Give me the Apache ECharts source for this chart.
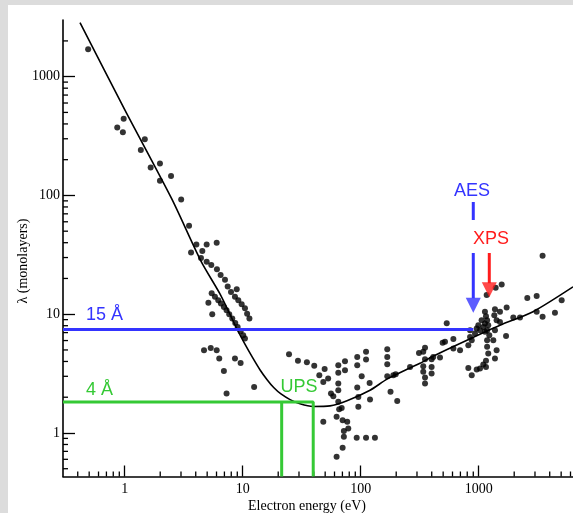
<!DOCTYPE html>
<html>
<head>
<meta charset="utf-8">
<script src="https://cdn.jsdelivr.net/npm/echarts@6/dist/echarts.min.js"></script>
<style>
  html, body { margin: 0; padding: 0; background: #dcdcdc; }
  #chart { width: 573px; height: 513px; }
</style>
</head>
<body>
<div id="chart"></div>
<script>
// axis ranges (electron energy in eV, lambda in monolayers)
const xMin = 0.3, xMax = 6300
const yMin = 0.43, yMax = 3000

const xTickValues = [1, 10, 100, 1000]
const xTickLabels = ['1', '10', '100', '1000']
const yTickValues = [1, 10, 100, 1000]
const yTickLabels = ['1', '10', '100', '1000']

const xMinorTicks = [0.4, 0.5, 0.6, 0.7, 0.8, 0.9, 2, 3, 4, 5, 6, 7, 8, 9,
  20, 30, 40, 50, 60, 70, 80, 90, 200, 300, 400, 500, 600, 700, 800, 900,
  2000, 3000, 4000, 5000, 6000]
const yMinorTicks = [0.5, 0.6, 0.7, 0.8, 0.9, 2, 3, 4, 5, 6, 7, 8, 9,
  20, 30, 40, 50, 60, 70, 80, 90, 200, 300, 400, 500, 600, 700, 800, 900, 2000]

// measured points
const steepPoints = [
  [0.49, 1700], [0.865, 374], [0.98, 443], [0.965, 341], [1.48, 297], [1.37, 241],
  [1.66, 172], [1.99, 186], [2.47, 146], [1.99, 133], [3.01, 92.5], [3.51, 55.5],
  [4.05, 38.6], [4.95, 38.6], [6.02, 39.9], [3.65, 33.1], [4.55, 34.0], [4.43, 29.8]
]
const bandPoints = [
  [4.95, 27.6], [5.42, 25.9], [6.05, 23.9], [6.5, 21.4], [7.08, 19.5], [7.46, 17.1],
  [8.9, 16.2], [7.96, 15.4], [8.6, 14.0], [9.18, 13.1], [9.8, 12.1], [10.45, 11.2],
  [10.9, 10.1], [11.4, 9.2],
  [5.46, 15.0], [5.82, 14.0], [6.21, 13.1], [6.54, 12.3], [6.93, 11.5], [7.3, 10.8],
  [7.69, 10.0], [8.16, 9.2], [8.65, 8.45], [9.06, 7.8], [9.6, 7.2], [10.1, 6.65], [10.45, 6.25],
  [5.12, 12.5], [5.52, 10.0], [4.7, 4.98], [5.36, 5.2], [6.02, 4.98], [6.33, 4.24],
  [6.93, 3.33], [8.6, 4.24], [9.6, 3.89], [7.3, 2.15], [12.5, 2.44]
]
const lowPoints = [
  [24.7, 4.6], [29.4, 4.05], [35, 3.93], [40.4, 3.68], [49.5, 3.46], [44.6, 3.06],
  [48.2, 2.69], [53, 2.87], [56, 2.15], [58.6, 2.04],
  [64.6, 3.72], [64.6, 3.21], [64.6, 2.61], [64.6, 2.29], [64.6, 1.83], [73.6, 4.02],
  [73.6, 3.37], [65.7, 1.58], [69, 1.62],
  [48.2, 1.24], [62.5, 1.37], [70.3, 1.28], [76.9, 1.24], [78.5, 1.09], [72, 1.04],
  [72, 0.93], [70.3, 0.75], [62.5, 0.63],
  [92.5, 0.91], [111, 0.91], [132, 0.91], [93.5, 4.37], [93.5, 3.72], [111, 4.82],
  [111, 4.16], [102, 3.0], [93.5, 2.42], [95.5, 2.01], [95.5, 1.66],
  [119, 2.64], [120, 1.91], [168, 5.07], [168, 4.37], [168, 3.79], [168, 3.0],
  [189, 3.06], [198, 3.12], [179, 2.22], [204, 1.86], [262, 3.6], [312, 4.72]
]
const midPoints = [
  [351, 5.22], [339, 4.82], [351, 4.18], [339, 3.65], [339, 3.27], [351, 2.93], [351, 2.61],
  [399, 4.18], [412, 4.37], [399, 3.6], [399, 3.16], [470, 4.31], [518, 5.85], [495, 5.74],
  [536, 8.4], [610, 6.17], [610, 5.14], [695, 4.98], [817, 3.53], [873, 3.06], [962, 3.42]
]
const highPoints = [
  [1026, 3.49], [1094, 3.77], [1153, 4.05], [1153, 3.6], [1205, 4.67], [1179, 5.31],
  [1374, 4.24], [1419, 4.98], [1706, 6.56],
  [845, 7.33], [845, 6.44], [873, 6.04], [817, 5.48], [931, 6.87], [962, 7.57], [993, 8.07],
  [1026, 7.33], [1059, 8.9], [1094, 7.82], [1130, 8.36], [1130, 7.1], [1130, 10.5],
  [1153, 9.6], [1179, 8.9], [1205, 8.07], [1179, 7.33], [1230, 6.65], [1179, 6.04],
  [1330, 6.04], [1374, 7.33], [1356, 9.8], [1419, 8.9], [1374, 11.0], [1515, 10.5],
  [1515, 8.6], [1726, 11.4], [1965, 9.4], [2240, 9.4], [3100, 10.5], [3480, 9.5],
  [4430, 10.3], [2582, 13.7], [3100, 14.2], [5050, 13.1], [1169, 14.5], [1393, 16.7],
  [1567, 17.8], [3480, 31]
]

// universal curve
const curve = [
  [0.418, 2850], [1, 528], [2.5, 94], [4.43, 28], [6.5, 14.5], [8.9, 7.58],
  [10.45, 5.59], [12.0, 4.39], [14.0, 3.41], [16.1, 2.81], [18.4, 2.4], [21.1, 2.13],
  [25.2, 1.91], [30.6, 1.76], [39.4, 1.67], [55, 1.69], [76.6, 1.87], [120, 2.29],
  [167, 2.84], [228, 3.31], [318, 3.86], [410, 4.43], [796, 6.04], [1515, 8.07],
  [2884, 10.5], [6300, 17]
]

// overlays
const aesLevel = [[xMin, 7.43], [900, 7.43]]
const aesShaftTop = [[900, 88], [900, 62]]
const aesShaft = [[900, 32.7], [900, 13.6]]
const aesHead = [[900, 11.9]]
const xpsShaft = [[1230, 32.7], [1230, 18.2]]
const xpsHead = [[1230, 16.1]]
const upsLevel = [[xMin, 1.82], [39.6, 1.82], [39.6, yMin]]
const upsLeft = [[21.4, 1.82], [21.4, yMin]]

const blue = '#3434ff'
const red = '#ff1c1c'
const green = '#35c935'

function tickLabel (values, labels) {
  return function (v) {
    for (let i = 0; i < values.length; i++) {
      if (Math.abs(v - values[i]) / values[i] < 1e-6) return labels[i]
    }
    return ''
  }
}

function minorTick (dir) {
  return function (params, api) {
    const p = api.coord([api.value(0), api.value(1)])
    const shape = dir === 'x'
      ? { x1: p[0], y1: p[1], x2: p[0], y2: p[1] - 5 }
      : { x1: p[0], y1: p[1], x2: p[0] + 5, y2: p[1] }
    return { type: 'line', shape: shape, style: { stroke: '#000', lineWidth: 1.3 } }
  }
}

function dots (data) {
  return {
    type: 'scatter', data: data, symbolSize: 6, silent: true,
    itemStyle: { color: '#000' }, z: 3
  }
}

function seg (data, color, width) {
  return {
    type: 'line', data: data, symbol: 'none', silent: true,
    lineStyle: { color: color, width: width }, z: 4
  }
}

function head (data, color) {
  return {
    type: 'scatter', data: data, symbol: 'triangle', symbolSize: [15, 15],
    symbolRotate: 180, silent: true, itemStyle: { color: color }, z: 4
  }
}

const chart = echarts.init(document.getElementById('chart'))
const serif = '"Liberation Serif", "DejaVu Serif", serif'
const sans = '"Liberation Sans", Arial, sans-serif'

chart.setOption({
  animation: false,
  backgroundColor: '#dcdcdc',
  grid: { left: 63, right: 0, top: 20, bottom: 36.5, outerBoundsMode: 'none' },
  xAxis: {
    type: 'log', logBase: 10, min: xMin, max: xMax,
    axisLine: { lineStyle: { color: '#000', width: 1.6 } },
    axisTick: { inside: true, length: 11, lineStyle: { color: '#000', width: 1.3 } },
    axisLabel: {
      showMinLabel: false, showMaxLabel: false, margin: 6,
      color: '#000', fontFamily: serif, fontSize: 14,
      formatter: tickLabel(xTickValues, xTickLabels)
    },
    splitLine: { show: false }
  },
  yAxis: {
    type: 'log', logBase: 10, min: yMin, max: yMax,
    axisLine: { lineStyle: { color: '#000', width: 1.6 } },
    axisTick: { inside: true, length: 12, lineStyle: { color: '#000', width: 1.3 } },
    axisLabel: {
      showMinLabel: false, showMaxLabel: false, margin: 3,
      color: '#000', fontFamily: serif, fontSize: 14,
      formatter: tickLabel(yTickValues, yTickLabels)
    },
    splitLine: { show: false }
  },
  graphic: [
    { type: 'rect', z: -10, silent: true, shape: { x: 8, y: 5, width: 565, height: 508 }, style: { fill: '#fff' } },
    { type: 'text', x: 307, y: 506, style: { text: 'Electron energy (eV)', font: '14px ' + serif, fill: '#000', align: 'center', verticalAlign: 'middle' } },
    { type: 'text', x: 23, y: 261, rotation: Math.PI / 2, style: { text: 'λ (monolayers)', font: '14px ' + serif, fill: '#000', align: 'center', verticalAlign: 'middle' } },
    { type: 'text', x: 86, y: 315, style: { text: '15 Å', font: '18px ' + sans, fill: blue, align: 'left', verticalAlign: 'middle' } },
    { type: 'text', x: 86, y: 390, style: { text: '4 Å', font: '18px ' + sans, fill: green, align: 'left', verticalAlign: 'middle' } },
    { type: 'text', x: 299, y: 387, style: { text: 'UPS', font: '18px ' + sans, fill: green, align: 'center', verticalAlign: 'middle' } },
    { type: 'text', x: 472, y: 191, style: { text: 'AES', font: '18px ' + sans, fill: blue, align: 'center', verticalAlign: 'middle' } },
    { type: 'text', x: 491, y: 239, style: { text: 'XPS', font: '18px ' + sans, fill: red, align: 'center', verticalAlign: 'middle' } }
  ],
  series: [
    {
      type: 'custom', renderItem: minorTick('x'), silent: true, z: 1,
      data: xMinorTicks.map(v => [v, yMin])
    },
    {
      type: 'custom', renderItem: minorTick('y'), silent: true, z: 1,
      data: yMinorTicks.map(v => [xMin, v])
    },
    dots(steepPoints),
    dots(bandPoints),
    dots(lowPoints),
    dots(midPoints),
    dots(highPoints),
    {
      type: 'line', data: curve, symbol: 'none', smooth: 0.25, silent: true,
      lineStyle: { color: '#000', width: 1.6 }, z: 3
    },
    seg(aesLevel, blue, 3),
    seg(aesShaftTop, blue, 3),
    seg(aesShaft, blue, 3),
    head(aesHead, blue),
    seg(xpsShaft, red, 3),
    head(xpsHead, red),
    seg(upsLevel, green, 3),
    seg(upsLeft, green, 3)
  ]
})
</script>
</body>
</html>
